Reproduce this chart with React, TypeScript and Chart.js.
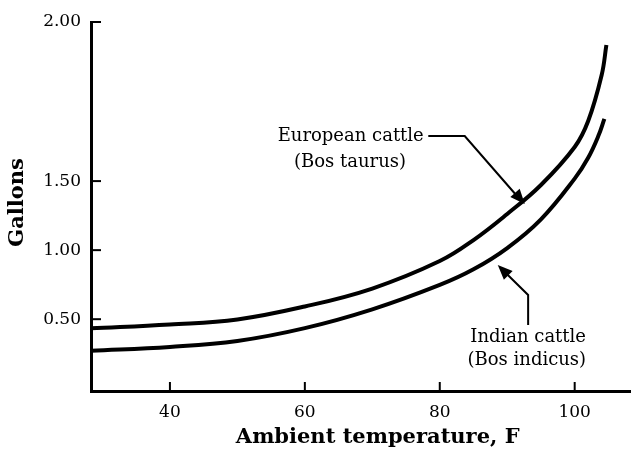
import React, { useEffect, useRef } from "react";
import { Chart, registerables } from "chart.js";

Chart.register(...registerables);

// Temperature (F) sample points
const europeanTemps = [28.3, 40, 50, 60, 70, 80, 85, 90, 95, 100, 102, 104, 104.7];
const europeanGallons = [0.434, 0.462, 0.498, 0.592, 0.722, 0.921, 1.073, 1.262, 1.472, 1.747, 1.935, 2.268, 2.485];
const indianTemps = [28.3, 40, 50, 60, 70, 80, 85, 90, 95, 100, 102, 103.5, 104.4];
const indianGallons = [0.272, 0.299, 0.342, 0.435, 0.571, 0.748, 0.861, 1.015, 1.223, 1.518, 1.669, 1.826, 1.95];

const xTickValues = [40, 60, 80, 100];
const yTickValues = [0.5, 1.0, 1.5, 2.652];
const yTickLabels = ["0.50", "1.00", "1.50", "2.00"];

const xTitle = "Ambient temperature, F";
const yTitle = "Gallons";
const europeanLabel = ["European cattle", "(Bos taurus)"];
const indianLabel = ["Indian cattle", "(Bos indicus)"];

const X_MIN = 28.3;
const X_MAX = 108.2;
const Y_MIN = -0.02;
const Y_MAX = 2.652;

const FONT = "'DejaVu Serif', serif";

function arrowHead(ctx: CanvasRenderingContext2D, fx: number, fy: number, tx: number, ty: number, size: number) {
  const ang = Math.atan2(ty - fy, tx - fx);
  ctx.beginPath();
  ctx.moveTo(tx, ty);
  ctx.lineTo(tx - size * Math.cos(ang - 0.4), ty - size * Math.sin(ang - 0.4));
  ctx.lineTo(tx - size * Math.cos(ang + 0.4), ty - size * Math.sin(ang + 0.4));
  ctx.closePath();
  ctx.fill();
}

const decorPlugin = {
  id: "decor",
  afterDraw(chart: any) {
    const ctx: CanvasRenderingContext2D = chart.ctx;
    const xs = chart.scales.x;
    const ys = chart.scales.y;
    const area = chart.chartArea;
    ctx.save();
    ctx.strokeStyle = "#000";
    ctx.fillStyle = "#000";
    // inward tick marks
    ctx.lineWidth = 2;
    xTickValues.forEach((v) => {
      const px = xs.getPixelForValue(v);
      ctx.beginPath();
      ctx.moveTo(px, area.bottom);
      ctx.lineTo(px, area.bottom - 9);
      ctx.stroke();
    });
    yTickValues.forEach((v) => {
      const py = ys.getPixelForValue(v);
      ctx.beginPath();
      ctx.moveTo(area.left, py);
      ctx.lineTo(area.left + 10, py);
      ctx.stroke();
    });

    // axis titles
    ctx.font = `bold 21px ${FONT}`;
    ctx.textAlign = "center";
    ctx.textBaseline = "alphabetic";
    ctx.fillText(xTitle, xs.getPixelForValue(70.8), area.bottom + 52);
    ctx.save();
    ctx.translate(23, ys.getPixelForValue(1.345));
    ctx.rotate(-Math.PI / 2);
    ctx.fillText(yTitle, 0, 0);
    ctx.restore();

    // annotations
    ctx.textBaseline = "middle";
    ctx.font = `18px ${FONT}`;
    ctx.fillText(europeanLabel[0], xs.getPixelForValue(66.8), ys.getPixelForValue(1.826));
    ctx.fillText(europeanLabel[1], xs.getPixelForValue(66.7), ys.getPixelForValue(1.638));
    ctx.fillText(indianLabel[0], xs.getPixelForValue(93.1), ys.getPixelForValue(0.371));
    ctx.fillText(indianLabel[1], xs.getPixelForValue(92.9), ys.getPixelForValue(0.204));

    ctx.lineWidth = 2;
    // European arrow
    const e1 = [xs.getPixelForValue(78.3), ys.getPixelForValue(1.826)];
    const e2 = [xs.getPixelForValue(83.7), ys.getPixelForValue(1.826)];
    const e3 = [xs.getPixelForValue(92.6), ys.getPixelForValue(1.334)];
    ctx.beginPath();
    ctx.moveTo(e1[0], e1[1]);
    ctx.lineTo(e2[0], e2[1]);
    ctx.lineTo(e3[0] - 6, e3[1] - 6);
    ctx.stroke();
    arrowHead(ctx, e2[0], e2[1], e3[0], e3[1], 16);

    // Indian arrow
    const i1 = [xs.getPixelForValue(93.1), ys.getPixelForValue(0.458)];
    const i2 = [xs.getPixelForValue(93.1), ys.getPixelForValue(0.675)];
    const i3 = [xs.getPixelForValue(88.6), ys.getPixelForValue(0.892)];
    ctx.beginPath();
    ctx.moveTo(i1[0], i1[1]);
    ctx.lineTo(i2[0], i2[1]);
    ctx.lineTo(i3[0] + 6, i3[1] + 6);
    ctx.stroke();
    arrowHead(ctx, i2[0], i2[1], i3[0], i3[1], 16);
    ctx.restore();
  },
};

export default function App() {
  const ref = useRef<HTMLCanvasElement>(null);
  useEffect(() => {
    document.body.style.margin = "0";
    if (!ref.current) return;
    const chart = new Chart(ref.current, {
      type: "line",
      data: {
        datasets: [
          {
            label: "European cattle",
            data: europeanTemps.map((t, i) => ({ x: t, y: europeanGallons[i] })),
            borderColor: "#000",
            borderWidth: 4,
            pointRadius: 0,
            tension: 0.4,
            fill: false,
          },
          {
            label: "Indian cattle",
            data: indianTemps.map((t, i) => ({ x: t, y: indianGallons[i] })),
            borderColor: "#000",
            borderWidth: 4,
            pointRadius: 0,
            tension: 0.4,
            fill: false,
          },
        ],
      },
      options: {
        animation: false,
        responsive: false,
        maintainAspectRatio: false,
        layout: { padding: { top: 22, right: 2, left: 0, bottom: 0 } },
        plugins: { legend: { display: false }, tooltip: { enabled: false } },
        scales: {
          x: {
            type: "linear",
            min: X_MIN,
            max: X_MAX,
            afterBuildTicks: (s: any) => {
              s.ticks = xTickValues.map((v) => ({ value: v }));
            },
            afterFit: (s: any) => {
              s.height = 58;
              s.paddingLeft = 0;
              s.paddingRight = 0;
            },
            grid: { display: false, drawTicks: false },
            border: { display: true, color: "#000", width: 3 },
            ticks: {
              color: "#000",
              padding: 11,
              font: { family: FONT, size: 17 },
              maxRotation: 0,
              callback: (v: any) => String(v),
            },
          },
          y: {
            type: "linear",
            min: Y_MIN,
            max: Y_MAX,
            afterBuildTicks: (s: any) => {
              s.ticks = yTickValues.map((v) => ({ value: v }));
            },
            afterFit: (s: any) => {
              s.width = 91;
              s.paddingTop = 0;
              s.paddingBottom = 0;
            },
            grid: { display: false, drawTicks: false },
            border: { display: true, color: "#000", width: 3 },
            ticks: {
              color: "#000",
              padding: 10,
              font: { family: FONT, size: 17 },
              callback: (v: any) => {
                const idx = yTickValues.indexOf(v);
                return idx >= 0 ? yTickLabels[idx] : "";
              },
            },
          },
        },
      },
      plugins: [decorPlugin],
    });
    return () => chart.destroy();
  }, []);
  return (
    <div style={{ width: 632, height: 449 }}>
      <canvas ref={ref} width={632} height={449} style={{ width: 632, height: 449, display: "block" }} />
    </div>
  );
}
